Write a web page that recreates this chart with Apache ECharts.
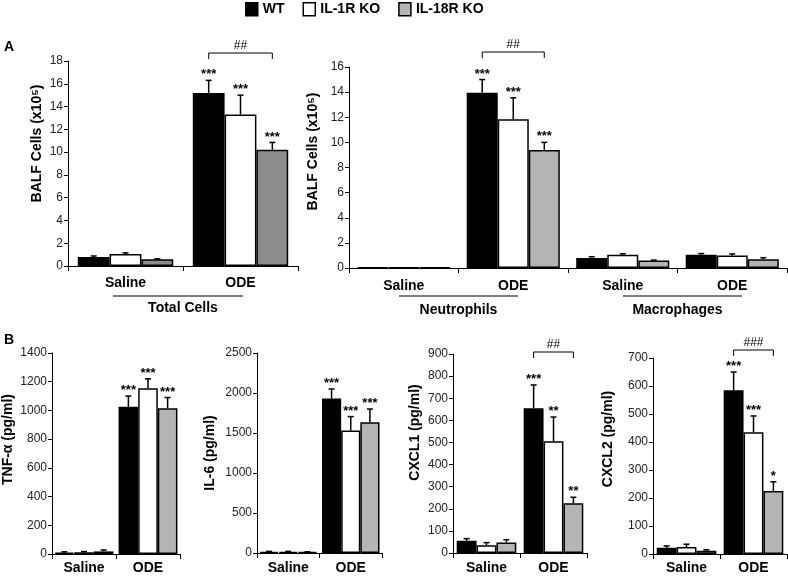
<!DOCTYPE html>
<html><head><meta charset="utf-8">
<script src="https://cdn.jsdelivr.net/npm/echarts@6/dist/echarts.min.js"></script>
<style>html,body{margin:0;padding:0;background:#fff}#c{width:788px;height:576px}</style>
</head><body><div id="c"></div>
<script>
// ---------------- DATA ----------------
const genotypes = ['WT', 'IL-1R KO', 'IL-18R KO'];
const condCats = ['Saline', 'ODE'];
const cellCats = ['Saline', 'ODE', 'Saline', 'ODE'];
const cellGroups = ['Neutrophils', 'Macrophages'];

// Panel A left: Total cells (x10^5), per genotype [Saline, ODE]
const totalMean = [[0.8, 15.2], [1.05, 13.3], [0.6, 10.2]];
const totalErr  = [[0.08, 1.1], [0.1, 1.7], [0.03, 0.65]];
const totalSig  = [['', '***'], ['', '***'], ['', '***']];

// Panel A right: Neutrophils (Saline, ODE), Macrophages (Saline, ODE)
const cellMean = [[0.05, 13.95, 0.8, 1.05], [0.05, 11.85, 1.05, 1.0], [0.05, 9.4, 0.6, 0.7]];
const cellErr  = [[0, 1.05, 0.1, 0.1], [0, 1.7, 0.08, 0.12], [0, 0.6, 0.03, 0.12]];
const cellSig  = [['', '***', '', ''], ['', '***', '', ''], ['', '***', '', '']];

// Panel B: cytokines (pg/ml)
const tnfMean = [[10, 1025], [12, 1155], [18, 1015]];
const tnfErr  = [[5, 75], [5, 65], [10, 75]];
const tnfSig  = [['', '***'], ['', '***'], ['', '***']];

const il6Mean = [[15, 1930], [15, 1530], [10, 1635]];
const il6Err  = [[5, 120], [5, 175], [5, 165]];
const il6Sig  = [['', '***'], ['', '***'], ['', '***']];

const cxcl1Mean = [[55, 655], [35, 505], [48, 225]];
const cxcl1Err  = [[10, 105], [12, 110], [12, 27]];
const cxcl1Sig  = [['', '***'], ['', '**'], ['', '**']];

const cxcl2Mean = [[22, 585], [25, 435], [12, 225]];
const cxcl2Err  = [[7, 65], [10, 58], [3, 33]];
const cxcl2Sig  = [['', '***'], ['', '***'], ['', '*']];

// ---------------- STYLE / LAYOUT ----------------
const FONT = 'Liberation Sans, Arial, sans-serif';
const fillLight = ['#000000', '#ffffff', '#b4b4b4'];
const fillDark  = ['#000000', '#ffffff', '#8c8c8c'];

const panels = [
  {grid:{left:68, top:61, width:230, height:205}, cats:condCats, mean:totalMean, err:totalErr, sig:totalSig,
   max:18, interval:2, name:'BALF Cells (x10\u2075)', nameGap:24, namePad:40, gap:0.17, fills:fillDark,
   labelMargin:10, bracket:{cat:1, text:'##', lift:8}},
  {grid:{left:349, top:67, width:438, height:201}, cats:cellCats, mean:cellMean, err:cellErr, sig:cellSig,
   max:16, interval:2, name:'BALF Cells (x10\u2075)', nameGap:24, namePad:32, gap:0.15, fills:fillLight,
   labelMargin:11, bracket:{cat:1, text:'##', lift:15}},
  {grid:{left:52, top:353, width:128, height:201}, cats:condCats, mean:tnfMean, err:tnfErr, sig:tnfSig,
   max:1400, interval:200, name:'TNF-\u03b1 (pg/ml)', nameGap:37, namePad:28, gap:0.08, fills:fillLight, labelMargin:7},
  {grid:{left:257, top:353, width:125, height:200}, cats:condCats, mean:il6Mean, err:il6Err, sig:il6Sig,
   max:2500, interval:500, name:'IL-6 (pg/ml)', nameGap:40, namePad:0, gap:0.08, fills:fillLight, labelMargin:8},
  {grid:{left:453, top:354, width:134, height:199}, cats:condCats, mean:cxcl1Mean, err:cxcl1Err, sig:cxcl1Sig,
   max:900, interval:100, name:'CXCL1 (pg/ml)', nameGap:31, namePad:42, gap:0.11, fills:fillLight,
   labelMargin:8, bracket:{cat:1, text:'##', lift:2}},
  {grid:{left:653, top:358, width:134, height:196}, cats:condCats, mean:cxcl2Mean, err:cxcl2Err, sig:cxcl2Sig,
   max:700, interval:100, name:'CXCL2 (pg/ml)', nameGap:38, namePad:34, gap:0.11, fills:fillLight,
   labelMargin:7, bracket:{cat:1, text:'###', lift:8}}
];

const grids = [], xAxes = [], yAxes = [], series = [];

panels.forEach((p, gi) => {
  grids.push(Object.assign({containLabel:false}, p.grid));
  xAxes.push({
    gridIndex: gi, type: 'category', data: p.cats,
    axisLine: {lineStyle: {color: '#000', width: 1}},
    axisTick: {show: true, length: 5, lineStyle: {color: '#000'}},
    axisLabel: {fontFamily: FONT, fontWeight: 'bold', fontSize: 14, color: '#000', margin: p.labelMargin, interval: 0},
    splitLine: {show: false}
  });
  yAxes.push({
    gridIndex: gi, type: 'value', min: 0, max: p.max, interval: p.interval,
    name: p.name, nameLocation: 'middle', nameGap: p.nameGap, nameRotate: 90,
    nameTextStyle: {fontFamily: FONT, fontWeight: 'bold', fontSize: 14, color: '#000', padding: [0, 0, 0, p.namePad]},
    axisLine: {show: true, lineStyle: {color: '#000', width: 1}},
    axisTick: {show: true, length: 4, lineStyle: {color: '#000'}},
    axisLabel: {fontFamily: FONT, fontSize: 12, color: '#222', margin: 5, formatter: v => String(v)},
    splitLine: {show: false}
  });
  for (let k = 0; k < 3; k++) {
    series.push({
      type: 'bar', name: genotypes[k], xAxisIndex: gi, yAxisIndex: gi,
      data: p.mean[k], barGap: '0%', barCategoryGap: (p.gap * 100) + '%',
      itemStyle: {color: p.fills[k], borderColor: '#000', borderWidth: 1.5},
      emphasis: {disabled: true}, animation: false, z: 2
    });
  }
  for (let k = 0; k < 3; k++) {
    const sig = p.sig[k];
    series.push({
      type: 'custom', xAxisIndex: gi, yAxisIndex: gi, z: 5, animation: false, silent: true,
      data: p.mean[k].map((v, i) => [i, v, p.err[k][i]]),
      renderItem: (params, api) => {
        const ci = api.value(0), v = api.value(1), e = api.value(2);
        const band = api.size([1, 0])[0];
        const bw = band * (1 - p.gap) / 3;
        const c = api.coord([ci, v]);
        const t = api.coord([ci, v + e]);
        const x = c[0] + (k - 1) * bw;
        const ch = [];
        if (e > 0) {
          ch.push({type: 'line', shape: {x1: x, y1: c[1], x2: x, y2: t[1]}, style: {stroke: '#000', lineWidth: 1.5}});
          ch.push({type: 'line', shape: {x1: x - 3, y1: t[1], x2: x + 3, y2: t[1]}, style: {stroke: '#000', lineWidth: 1.5}});
        }
        const s = sig[params.dataIndex];
        if (s) {
          ch.push({type: 'text', x: x, y: t[1] + 1, style: {text: s, fill: '#000', font: 'bold 13px ' + FONT, align: 'center', verticalAlign: 'bottom'}});
        }
        return {type: 'group', children: ch};
      }
    });
  }
  if (p.bracket) {
    const b = p.bracket;
    series.push({
      type: 'custom', xAxisIndex: gi, yAxisIndex: gi, z: 5, animation: false, silent: true,
      data: [[b.cat, p.max]],
      renderItem: (params, api) => {
        const ci = api.value(0);
        const band = api.size([1, 0])[0];
        const bw = band * (1 - p.gap) / 3;
        const top = api.coord([ci, api.value(1)]);
        const y = top[1] - b.lift;
        const x1 = top[0] - bw, x2 = top[0] + bw;
        return {type: 'group', children: [
          {type: 'polyline', shape: {points: [[x1, y + 6], [x1, y], [x2, y], [x2, y + 6]]}, style: {stroke: '#000', lineWidth: 1, fill: null}},
          {type: 'text', x: (x1 + x2) / 2, y: y - 1, style: {text: b.text, fill: '#000', font: '12px ' + FONT, align: 'center', verticalAlign: 'bottom'}}
        ]};
      }
    });
  }
});

// Group labels under panel A
xAxes.push({
  gridIndex: 0, type: 'category', data: ['Total Cells'], position: 'bottom', offset: 30,
  axisLine: {show: false}, axisTick: {show: false},
  axisLabel: {fontFamily: FONT, fontWeight: 'bold', fontSize: 14, color: '#000', margin: 5}
});
xAxes.push({
  gridIndex: 1, type: 'category', data: cellGroups, position: 'bottom', offset: 30,
  axisLine: {show: false}, axisTick: {show: false},
  axisLabel: {fontFamily: FONT, fontWeight: 'bold', fontSize: 14, color: '#000', margin: 5, interval: 0}
});

const chart = echarts.init(document.getElementById('c'), null, {renderer: 'canvas'});
chart.setOption({
  backgroundColor: '#fff',
  animation: false,
  grid: grids, xAxis: xAxes, yAxis: yAxes, series: series,
  legend: {
    left: 240, top: -3, itemWidth: 12, itemHeight: 13, itemGap: 18,
    selectedMode: false,
    textStyle: {fontFamily: FONT, fontWeight: 'bold', fontSize: 14, color: '#000'},
    data: genotypes.map((g, k) => ({name: g, icon: 'rect',
      itemStyle: {color: fillLight[k], borderColor: '#000', borderWidth: 1.5}}))
  },
  graphic: [
    {type: 'text', left: 4, top: 40, style: {text: 'A', font: 'bold 14px ' + FONT, fill: '#000'}},
    {type: 'text', left: 4, top: 333, style: {text: 'B', font: 'bold 14px ' + FONT, fill: '#000'}},
    {type: 'line', shape: {x1: 113, y1: 296, x2: 243, y2: 296}, style: {stroke: '#000', lineWidth: 1}},
    {type: 'line', shape: {x1: 399, y1: 296, x2: 518, y2: 296}, style: {stroke: '#000', lineWidth: 1}},
    {type: 'line', shape: {x1: 623, y1: 296, x2: 742, y2: 296}, style: {stroke: '#000', lineWidth: 1}}
  ]
});
</script></body></html>
